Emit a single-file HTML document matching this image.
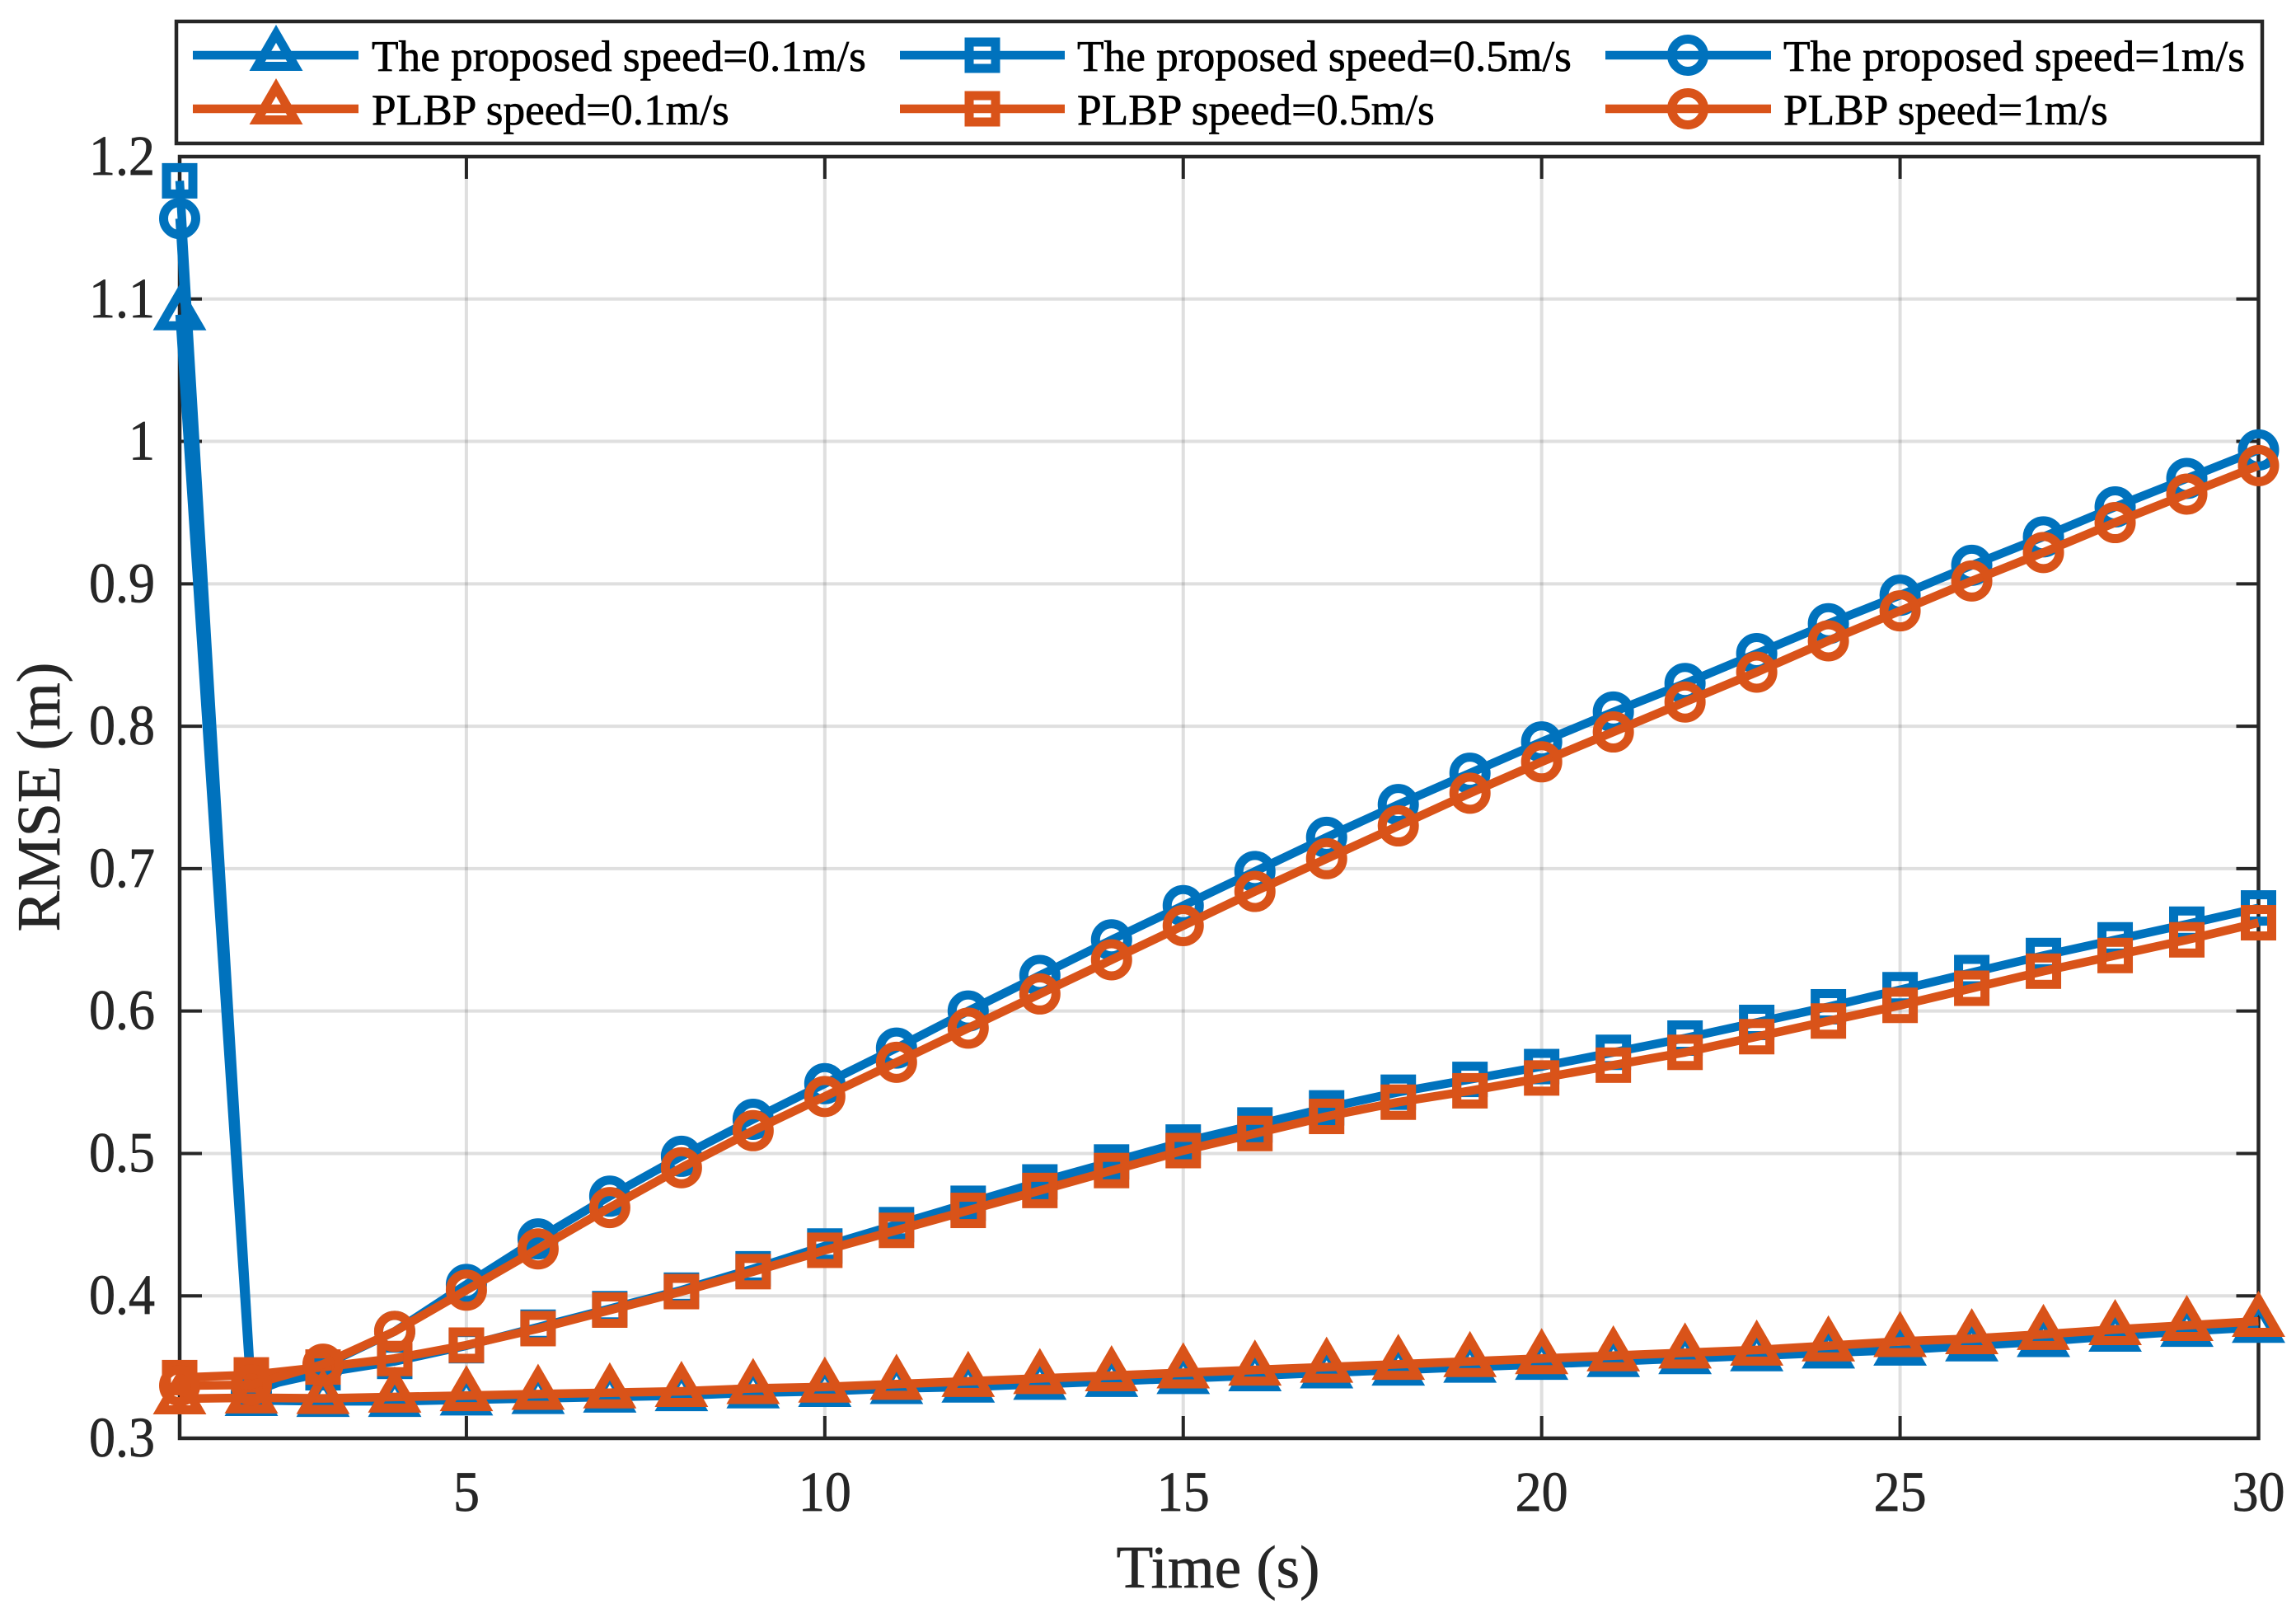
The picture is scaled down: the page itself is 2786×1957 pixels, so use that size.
<!DOCTYPE html>
<html lang="en">
<head>
<meta charset="utf-8">
<title>RMSE over time</title>
<style>
html,body{margin:0;padding:0;background:#fff;}
svg{display:block;font-family:"Liberation Serif","Times New Roman",serif;}
text{stroke-width:0.7px;paint-order:stroke;}
.leg{stroke:#000;}
.dark{stroke:#262626;}
</style>
</head>
<body>
<svg id="chart" xmlns="http://www.w3.org/2000/svg" width="2786" height="1957" viewBox="0 0 2786 1957">
  <rect x="0" y="0" width="2786" height="1957" fill="#fff"/>
  <g id="grid"></g>
  <g id="axes"></g>
  <g id="series"></g>
  <text class="dark" x="1478" y="1926" font-size="73" fill="#262626" text-anchor="middle">Time (s)</text>
  <text class="dark" transform="translate(72 967) rotate(-90)" font-size="74" fill="#262626" text-anchor="middle">RMSE (m)</text>

  <g>
    <rect x="214" y="26" width="2531" height="148" fill="#fff" stroke="#262626" stroke-width="4.5"/>
    <g>
      <line x1="234" x2="435" y1="67" y2="67" stroke="#0072BD" stroke-width="10.500"/>
      <path d="M335 41 L357.900 80.500 L312.100 80.500 Z" fill="none" stroke="#0072BD" stroke-width="11"/>
      <text class="leg" x="451" y="86" font-size="53.3" fill="#000">The proposed speed=0.1m/s</text>
    </g>
    <g>
      <line x1="234" x2="435" y1="132" y2="132" stroke="#D95319" stroke-width="10.500"/>
      <path d="M335 106 L357.900 145.500 L312.100 145.500 Z" fill="none" stroke="#D95319" stroke-width="11"/>
      <text class="leg" x="451" y="151" font-size="53.3" fill="#000">PLBP speed=0.1m/s</text>
    </g>
    <g>
      <line x1="1092" x2="1292" y1="67" y2="67" stroke="#0072BD" stroke-width="10.500"/>
      <rect x="1176" y="51" width="32" height="32" fill="none" stroke="#0072BD" stroke-width="11"/>
      <text class="leg" x="1307" y="86" font-size="53.3" fill="#000">The proposed speed=0.5m/s</text>
    </g>
    <g>
      <line x1="1092" x2="1292" y1="132" y2="132" stroke="#D95319" stroke-width="10.500"/>
      <rect x="1176" y="116" width="32" height="32" fill="none" stroke="#D95319" stroke-width="11"/>
      <text class="leg" x="1307" y="151" font-size="53.3" fill="#000">PLBP speed=0.5m/s</text>
    </g>
    <g>
      <line x1="1948" x2="2149" y1="67" y2="67" stroke="#0072BD" stroke-width="10.500"/>
      <circle cx="2048" cy="67" r="19.500" fill="none" stroke="#0072BD" stroke-width="11"/>
      <text class="leg" x="2164" y="86" font-size="53.3" fill="#000">The proposed speed=1m/s</text>
    </g>
    <g>
      <line x1="1948" x2="2149" y1="132" y2="132" stroke="#D95319" stroke-width="10.500"/>
      <circle cx="2048" cy="132" r="19.500" fill="none" stroke="#D95319" stroke-width="11"/>
      <text class="leg" x="2164" y="151" font-size="53.3" fill="#000">PLBP speed=1m/s</text>
    </g>
  </g>
</svg>
<script>
const xTicks = [5, 10, 15, 20, 25, 30];
const yTicks = [0.3, 0.4, 0.5, 0.6, 0.7, 0.8, 0.9, 1, 1.1, 1.2];
const yTickLabels = ['0.3', '0.4', '0.5', '0.6', '0.7', '0.8', '0.9', '1', '1.1', '1.2'];
const times = [1,2,3,4,5,6,7,8,9,10,11,12,13,14,15,16,17,18,19,20,21,22,23,24,25,26,27,28,29,30];

const proposedSlow = [1.089,.3266,.326,.326,.327,.328,.329,.330,.332,.333,.335,.336,.338,.340,.342,.344,.346,.348,.350,.352,.354,.356,.358,.360,.362,.365,.368,.3718,.3752,.378];
const proposedMid = [1.183,.335,.346,.354,.365,.378,.391,.404,.419,.435,.450,.465,.480,.494,.508,.520,.532,.543,.552,.561,.571,.581,.592,.603,.615,.627,.639,.650,.661,.6724];
const proposedFast = [1.1565,.332,.351,.375,.408,.440,.470,.498,.524,.549,.574,.600,.625,.650,.674,.698,.722,.745,.767,.789,.810,.830,.851,.872,.892,.913,.933,.954,.974,.994];
const plbpSlow = [.3278,.3284,.328,.329,.330,.331,.332,.333,.335,.336,.338,.340,.342,.344,.346,.348,.350,.352,.354,.356,.358,.360,.362,.365,.368,.370,.373,.3764,.3793,.3822];
const plbpMid = [.3426,.3445,.350,.356,.3654,.377,.390,.403,.417,.432,.446,.460,.474,.488,.502,.514,.526,.536,.544,.553,.562,.571,.582,.593,.604,.616,.628,.639,.650,.662];
const plbpFast = [.337,.3375,.352,.375,.404,.433,.462,.490,.516,.540,.564,.588,.612,.636,.660,.684,.707,.730,.753,.775,.796,.817,.838,.860,.881,.902,.922,.943,.963,.983];

const NS = 'http://www.w3.org/2000/svg';
const left = 218, right = 2740.5, top_ = 190, bottom = 1745;
const xMin = 1, xMax = 30, yMin = 0.3, yMax = 1.2;
function xScale(v) { return left + (v - xMin) / (xMax - xMin) * (right - left); }
function yScale(v) { return bottom - (v - yMin) / (yMax - yMin) * (bottom - top_); }
function make(tag, attrs, parent) {
  const el = document.createElementNS(NS, tag);
  for (const k in attrs) el.setAttribute(k, attrs[k]);
  parent.appendChild(el);
  return el;
}
const gridG = document.getElementById('grid');
const axesG = document.getElementById('axes');
const seriesG = document.getElementById('series');
const gridStyle = { stroke: '#262626', 'stroke-opacity': 0.15, 'stroke-width': 4 };
const tickColor = '#262626';

xTicks.forEach(function (t) {
  const x = xScale(t);
  if (t !== xMax) {
    const g = make('line', Object.assign({ x1: x, x2: x, y1: top_, y2: bottom }, gridStyle), gridG);
    
    
    const a = make('line', { x1: x, x2: x, y1: bottom, y2: bottom - 27, stroke: tickColor, 'stroke-width': 4 }, axesG);
    
    
    const b = make('line', { x1: x, x2: x, y1: top_, y2: top_ + 27, stroke: tickColor, 'stroke-width': 4 }, axesG);
    
    
  }
  const lab = make('text', { 'class': 'dark', transform: 'translate(' + x + ' 1833) scale(1 1.07)', 'font-size': 64, fill: tickColor, 'text-anchor': 'middle' }, axesG);
  
  
  lab.textContent = String(t);
});

yTicks.forEach(function (t, i) {
  const y = yScale(t);
  if (i > 0 && i < yTicks.length - 1) {
    const g = make('line', Object.assign({ x1: left, x2: right, y1: y, y2: y }, gridStyle), gridG);
    
    
    const a = make('line', { x1: left, x2: left + 27, y1: y, y2: y, stroke: tickColor, 'stroke-width': 4 }, axesG);
    
    
    const b = make('line', { x1: right, x2: right - 27, y1: y, y2: y, stroke: tickColor, 'stroke-width': 4 }, axesG);
    
    
  }
  const lab = make('text', { 'class': 'dark', transform: 'translate(188 ' + (y + 22) + ') scale(1 1.07)', 'font-size': 64, fill: tickColor, 'text-anchor': 'end' }, axesG);
  
  
  lab.textContent = yTickLabels[i];
});

const frame = make('rect', { x: left, y: top_, width: right - left, height: bottom - top_, fill: 'none', stroke: tickColor, 'stroke-width': 4.5 }, axesG);



function drawMarker(kind, x, y, color, parent) {
  let m;
  if (kind === 'triangle') {
    m = make('path', { d: 'M' + x + ' ' + (y - 26) + 'L' + (x + 22.9) + ' ' + (y + 13.5) + 'L' + (x - 22.9) + ' ' + (y + 13.5) + 'Z' }, parent);
  } else if (kind === 'square') {
    m = make('rect', { x: x - 16, y: y - 16, width: 32, height: 32 }, parent);
  } else {
    m = make('circle', { cx: x, cy: y, r: 19.5 }, parent);
  }
  m.setAttribute('fill', 'none');
  m.setAttribute('stroke', color);
  m.setAttribute('stroke-width', 11);
  
  
}

function drawSeries(name, values, color, kind) {
  const g = make('g', {}, seriesG);
  
  
  const pts = values.map(function (v, i) { return xScale(times[i]).toFixed(1) + ',' + yScale(v).toFixed(1); }).join(' ');
  const line = make('polyline', { points: pts, fill: 'none', stroke: color, 'stroke-width': 10.5, 'stroke-linejoin': 'round' }, g);
  
  
  values.forEach(function (v, i) { drawMarker(kind, xScale(times[i]), yScale(v), color, g); });
}

drawSeries('series-proposed-speed-0-1', proposedSlow, '#0072BD', 'triangle');
drawSeries('series-proposed-speed-0-5', proposedMid, '#0072BD', 'square');
drawSeries('series-proposed-speed-1', proposedFast, '#0072BD', 'circle');
drawSeries('series-plbp-speed-0-1', plbpSlow, '#D95319', 'triangle');
drawSeries('series-plbp-speed-0-5', plbpMid, '#D95319', 'square');
drawSeries('series-plbp-speed-1', plbpFast, '#D95319', 'circle');
</script>
</body>
</html>
